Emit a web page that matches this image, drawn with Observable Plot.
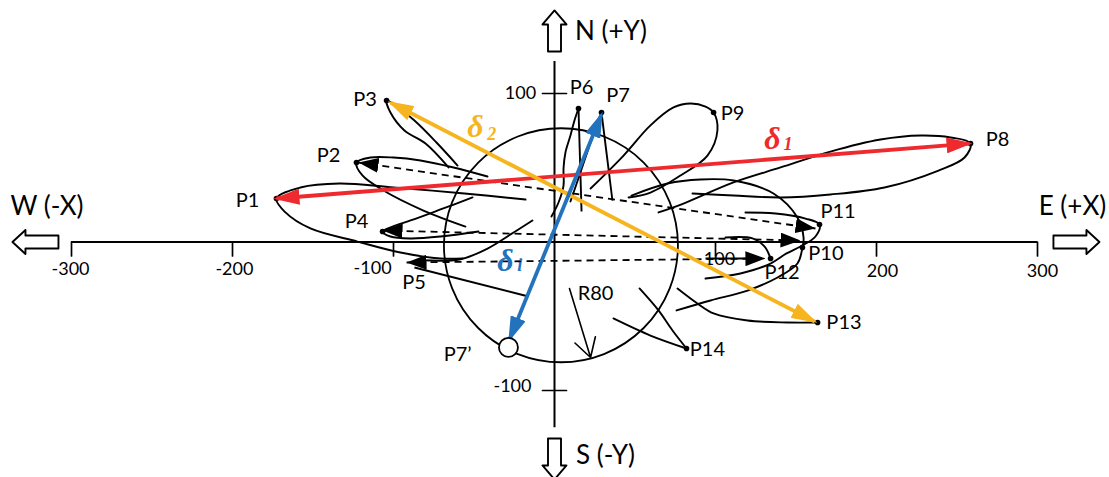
<!DOCTYPE html>
<html><head><meta charset="utf-8">
<script src="https://cdn.jsdelivr.net/npm/d3@7"></script>
<script src="https://cdn.jsdelivr.net/npm/@observablehq/plot@0.6"></script>
<style>
html,body{margin:0;padding:0;background:#fff;}
#chart{width:1109px;height:477px;overflow:hidden;}
</style></head><body><div id="chart"></div>
<script>
// ---------- data (chart units: X east, Y north) ----------
const POINT_NAMES = ["P1","P2","P3","P4","P6","P7","P8","P9","P10","P11","P12","P13","P14"];
const POINT_X = [-172.7,-123.0,-104.3,-106.8,14.9,29.2,258.4,98.8,154.0,164.6,134.2,163.4,82.0];
const POINT_Y = [29.3,53.5,95.3,7.1,89.9,87.2,66.3,87.2,-3.7,11.8,-11.1,-54.2,-71.7];

const LABEL_TEXT = ["P1","P2","P3","P4","P5","P6","P7","P8","P9","P10","P11","P12","P13","P14","P7\u2019","R80"];
const LABEL_X = [-190.7,-140.4,-117.7,-123.0,-87.3,16.8,39.5,275.2,110.6,168.6,176.1,141.3,179.8,95.0,-60.2,25.5];
const LABEL_Y = [27.9,58.2,96.0,13.8,-27.3,104.0,98.7,69.0,86.5,-7.7,20.5,-20.5,-54.2,-72.4,-75.8,-34.7];

const loopP1 = [[-18,28.6],[-55.9,32.7],[-100,36.7],[-133.5,39.4],[-157.8,36.7],[-172.7,29.3],[-167.1,19.9],[-151.6,9.1],[-122.4,0.3],[-95.7,-7.1],[-70.8,-11.1],[-57.1,-11.1]];
const strandP5 = [[-13.7,14.5],[-27.3,5.1],[-41.6,-4.4],[-58.4,-11.6],[-82,-12.3]];
const loopP2 = [[-41.6,44.1],[-62.7,50.2],[-83.2,54.9],[-100,56.9],[-114.3,56.9],[-123,53.5],[-119.3,44.8],[-106.2,34.7],[-81.4,21.2],[-55.3,10.4]];
const loopP3 = [[-65.8,50.2],[-80.1,66.3],[-93.2,75.1],[-101.9,87.2],[-104.3,95.3],[-100.6,93.3],[-87,81.8],[-73.3,67],[-60.2,51.5]];
const loopP4 = [[-50.9,30],[-70.8,21.9],[-89.4,14.5],[-100.6,10.4],[-106.8,7.1],[-101.9,3.7],[-89.4,2.4],[-70.8,3.7],[-47.2,7.1]];
const strandP6 = [[-1.9,17.2],[2.5,26.6],[5.6,38],[5.6,49.5],[6.8,60.3],[9.9,71.7],[12.4,81.8],[14.9,89.9]];
const strandP7 = [[9.9,27.3],[16.1,46.8],[22.4,67],[26.7,80.5],[29.2,87.2]];
const loopP9 = [[22.4,36],[42.9,58.2],[59.6,78.5],[73.9,90.6],[84.5,93.3],[93.8,91.2],[98.8,87.2],[101.2,75.1],[95,58.2],[78.3,44.8],[59.6,33.3],[46,30]];
const loopP8 = [[64.6,19.9],[80.1,25.9],[111.2,40.1],[140.4,50.2],[171.4,60.9],[202.5,69],[227.3,71.7],[246,70.4],[258.4,66.3],[254.7,56.9],[238.5,48.1],[205,36.7],[171.4,32],[140.4,30],[111.2,31.3],[85.7,32.7]];
const loopP10 = [[47.8,31.3],[70.2,39.4],[90.7,42.1],[111.2,41.4],[136,32.7],[150.9,16.5],[154.7,3],[154,-3.7],[150.9,-14.5],[138.5,-23.9],[119.9,-32.7],[96.9,-39.4],[75.8,-46.1]];
const loopP11 = [[118.6,19.9],[137.3,19.2],[155.9,15.8],[164.6,11.8],[162.1,3.7],[152.8,-3],[144.1,-7.7],[134.2,-14.5],[115.5,-21.2],[93.8,-24.6]];
const strandP12 = [[106.2,3],[123,2.4],[130.4,-3],[134.2,-11.1]];
const strandP13 = [[76.4,-31.3],[88.8,-41.4],[98.8,-48.1],[119.9,-52.9],[144.7,-54.2],[163.4,-54.2]];
const strandP14a = [[36.6,-51.5],[59.6,-63],[82,-71.7]];
const strandP14b = [[52.8,-31.3],[64.6,-46.1],[73.3,-59.6],[82,-71.7]];

// straight solid strands: P6 right, P7 right, P5 lower, P12 inbound
const STRAIGHT_X1 = [14.9, 29.2, -87.0, 93.8];
const STRAIGHT_Y1 = [89.9, 87.2, -17.2, -11.1];
const STRAIGHT_X2 = [16.8, 36.0, -16.1, 126.1];
const STRAIGHT_Y2 = [20.5, 27.9, -36.7, -11.1];

// dashed double arrows: P2-P11, P4-P10, P5-P12
const DASH_X1 = [-121.7, -106.8, -91.9];
const DASH_Y1 = [53.5, 7.7, -13.8];
const DASH_X2 = [162.1, 152.8, 131.0];
const DASH_Y2 = [9.1, 1.0, -11.1];

// displacement vectors
const DELTA_NAMES = ["d1", "d2", "di"];
const DELTA_X1 = [-172.7, -101.9, 29.2];
const DELTA_Y1 = [29.3, 93.9, 85.9];
const DELTA_X2 = [257.8, 161.5, -28.0];
const DELTA_Y2 = [66.3, -53.5, -65.7];
const DELTA_SUB = ["1", "2", "i"];
const DELTA_LX = [135.4, -49.1, -30.4];
const DELTA_LY = [69.7, 77.8, -12.5];
const DELTA_SX = [145.0, -39.0, -21.6];
const DELTA_SY = [65.8, 72.6, -15.6];

// R80 circle and its pointer, P7'
const CIRCLE_CENTER = [{x: 4.0, y: -2.2}];
const R80_ARROW = [{x1: 9.3, y1: -31.3, x2: 22.4, y2: -77.8}];
const P7PRIME = [{x: -28.6, y: -71.0}];

// axes
const X_TICKS = [-300, -200, -100, 100, 200, 300];
const X_TICK_LABELS = ["-300","-200","-100","100","200","300"];
const X_LABEL_X = [-300.6, -198.8, -113, 102.5, 203.7, 303.1];
const X_LABEL_Y = [-18.5, -18.5, -17.5, -11.8, -19.5, -19.5];
const Y_TICKS = [100, -100];
const Y_TICK_LABELS = ["100", "-100"];
const Y_LABEL_X = [-21.1, -26.1];
const Y_LABEL_Y = [100, -97.3];

// compass
const COMPASS_TEXT = ["N (+Y)", "S (-Y)", "W (-X)", "E (+X)"];
const COMPASS_TX = [35.1, 31.7, -315.2, 321.7];
const COMPASS_TY = [141.3, -143.8, 23.9, 23.9];
const NS_BASE_X = [0, 0];
const NS_BASE_Y = [128.3, -132.3];
const NS_DIR = [0, 180];
const WE_BASE_X = [-308.1, 309.9];
const WE_BASE_Y = [0, 0];
const WE_DIR = [-90, 90];

// ---------- tables ----------
const LOOPS = {P1: loopP1, P5: strandP5, P2: loopP2, P3: loopP3, P4: loopP4, P6: strandP6, P7: strandP7,
  P9: loopP9, P8: loopP8, P10: loopP10, P11: loopP11, P12: strandP12, P13: strandP13, P14a: strandP14a, P14b: strandP14b};
const loopRows = Object.entries(LOOPS).flatMap(([id, pts]) => pts.map(([x, y]) => ({id, x, y})));
const points = POINT_NAMES.map((n, i) => ({n, x: POINT_X[i], y: POINT_Y[i]}));
const labels = LABEL_TEXT.map((t, i) => ({t, x: LABEL_X[i], y: LABEL_Y[i]}));
const straights = STRAIGHT_X1.map((_, i) => ({x1: STRAIGHT_X1[i], y1: STRAIGHT_Y1[i], x2: STRAIGHT_X2[i], y2: STRAIGHT_Y2[i]}));
const dashes = DASH_X1.map((_, i) => ({x1: DASH_X1[i], y1: DASH_Y1[i], x2: DASH_X2[i], y2: DASH_Y2[i]}));
const deltas = DELTA_NAMES.map((n, i) => ({n, x1: DELTA_X1[i], y1: DELTA_Y1[i], x2: DELTA_X2[i], y2: DELTA_Y2[i],
  sub: DELTA_SUB[i], lx: DELTA_LX[i], ly: DELTA_LY[i], sx: DELTA_SX[i], sy: DELTA_SY[i]}));
const xTicks = X_TICKS.map((v, i) => ({v, t: X_TICK_LABELS[i], lx: X_LABEL_X[i], ly: X_LABEL_Y[i]}));
const yTicks = Y_TICKS.map((v, i) => ({v, t: Y_TICK_LABELS[i], lx: Y_LABEL_X[i], ly: Y_LABEL_Y[i]}));
const compassText = COMPASS_TEXT.map((t, i) => ({t, x: COMPASS_TX[i], y: COMPASS_TY[i]}));
const nsArrows = NS_BASE_X.map((x, i) => ({x, y: NS_BASE_Y[i], a: NS_DIR[i]}));
const weArrows = WE_BASE_X.map((x, i) => ({x, y: WE_BASE_Y[i], a: WE_DIR[i]}));

// ---------- shapes ----------
const blockArrow = (hw, sw, hl) => ({
  draw(ctx, l) {
    ctx.moveTo(-sw, 0);
    ctx.lineTo(-sw, -(l - hl));
    ctx.lineTo(-hw, -(l - hl));
    ctx.lineTo(0, -l);
    ctx.lineTo(hw, -(l - hl));
    ctx.lineTo(sw, -(l - hl));
    ctx.lineTo(sw, 0);
    ctx.closePath();
  }
});
const tickShape = {draw(ctx, l) { ctx.moveTo(0, 0); ctx.lineTo(0, -l); }};

function tri(len, wid, ext) {
  return (color) => {
    const ns = "http://www.w3.org/2000/svg";
    const m = document.createElementNS(ns, "marker");
    m.setAttribute("viewBox", `0 ${-wid / 2} ${len} ${wid}`);
    m.setAttribute("markerWidth", len);
    m.setAttribute("markerHeight", wid);
    m.setAttribute("markerUnits", "userSpaceOnUse");
    m.setAttribute("refX", len - ext);
    m.setAttribute("refY", 0);
    m.setAttribute("orient", "auto-start-reverse");
    const p = document.createElementNS(ns, "path");
    p.setAttribute("d", `M0,${-wid / 2}L${len},0L0,${wid / 2}Z`);
    p.setAttribute("fill", color);
    p.setAttribute("stroke", "none");
    p.setAttribute("stroke-dasharray", "none");
    m.appendChild(p);
    return m;
  };
}

const FONT = "Lato, 'Open Sans', sans-serif";
const SERIF = "'Liberation Serif', 'DejaVu Serif', serif";

function build(custom) {
  const headBlack = custom ? tri(20, 15, 0) : "arrow";
  const headColor = custom ? tri(26, 16, 3) : "arrow";
  return Plot.plot({
    width: 1109, height: 477, margin: 0,
    x: {domain: [-300, 300], range: [71, 1037], axis: null},
    y: {domain: [-100, 100], range: [390, 93], axis: null},
    color: {domain: DELTA_NAMES, range: ["#ee2a2e", "#f6b51e", "#2272be"]},
    style: {background: "white", fontFamily: FONT, color: "black"},
    marks: [
      // axes
      Plot.ruleY([0], {x1: -300, x2: 300, stroke: "black", strokeWidth: 2}),
      Plot.ruleX([0], {y1: -125, y2: 121.5, stroke: "black", strokeWidth: 2}),
      Plot.vector(xTicks, {x: "v", y: 0, length: 14, rotate: 180, anchor: "start", shape: tickShape, stroke: "black", strokeWidth: 1.7}),
      Plot.vector(yTicks, {x: 0, y: "v", length: 24, rotate: 90, anchor: "middle", shape: tickShape, stroke: "black", strokeWidth: 1.7}),
      Plot.text(xTicks, {x: "lx", y: "ly", text: "t", fontSize: 18, fill: "black"}),
      Plot.text(yTicks, {x: "lx", y: "ly", text: "t", fontSize: 18, fill: "black"}),
      // compass
      Plot.vector(nsArrows, {x: "x", y: "y", rotate: "a", length: 41, anchor: "start", shape: blockArrow(12, 6.5, 14), fill: "white", stroke: "black", strokeWidth: 1.9}),
      Plot.vector(weArrows, {x: "x", y: "y", rotate: "a", length: 46, anchor: "start", shape: blockArrow(12, 6.5, 13), fill: "white", stroke: "black", strokeWidth: 1.9}),
      Plot.text(compassText, {x: "x", y: "y", text: "t", fontSize: 26, fill: "black"}),
      // circle R80
      Plot.dot(CIRCLE_CENTER, {x: "x", y: "y", r: 117, fill: "none", stroke: "black", strokeWidth: 1.8}),
      // trajectory loops
      Plot.line(loopRows, {x: "x", y: "y", z: "id", curve: "catmull-rom", stroke: "black", strokeWidth: 1.9, fill: "none"}),
      Plot.link(straights, {x1: "x1", y1: "y1", x2: "x2", y2: "y2", stroke: "black", strokeWidth: 1.9}),
      // dashed arrows
      Plot.link(dashes, {x1: "x1", y1: "y1", x2: "x2", y2: "y2", stroke: "black", strokeWidth: 1.8, strokeDasharray: "7,5", markerStart: headBlack, markerEnd: headBlack}),
      // R80 pointer
      Plot.arrow(R80_ARROW, {x1: "x1", y1: "y1", x2: "x2", y2: "y2", headLength: 20, headAngle: 60, stroke: "black", strokeWidth: 1.6}),
      // points
      Plot.dot(points, {x: "x", y: "y", r: 2.8, fill: "black"}),
      // displacement vectors
      Plot.link(deltas, {x1: "x1", y1: "y1", x2: "x2", y2: "y2", stroke: "n", strokeWidth: 3.8, markerStart: headColor, markerEnd: headColor}),
      Plot.dot(P7PRIME, {x: "x", y: "y", r: 9.5, fill: "white", stroke: "black", strokeWidth: 1.8}),
      // labels
      Plot.text(labels, {x: "x", y: "y", text: "t", fontSize: 20, fill: "black"}),
      Plot.text(deltas, {x: "lx", y: "ly", text: () => "\u03b4", fill: "n", fontFamily: SERIF, fontSize: 32, fontWeight: "bold", fontStyle: "italic"}),
      Plot.text(deltas, {x: "sx", y: "sy", text: "sub", fill: "n", fontFamily: SERIF, fontSize: 18, fontWeight: "bold", fontStyle: "italic"})
    ]
  });
}

let chart;
try { chart = build(true); } catch (e) { chart = build(false); }
document.getElementById("chart").appendChild(chart);
</script></body></html>
